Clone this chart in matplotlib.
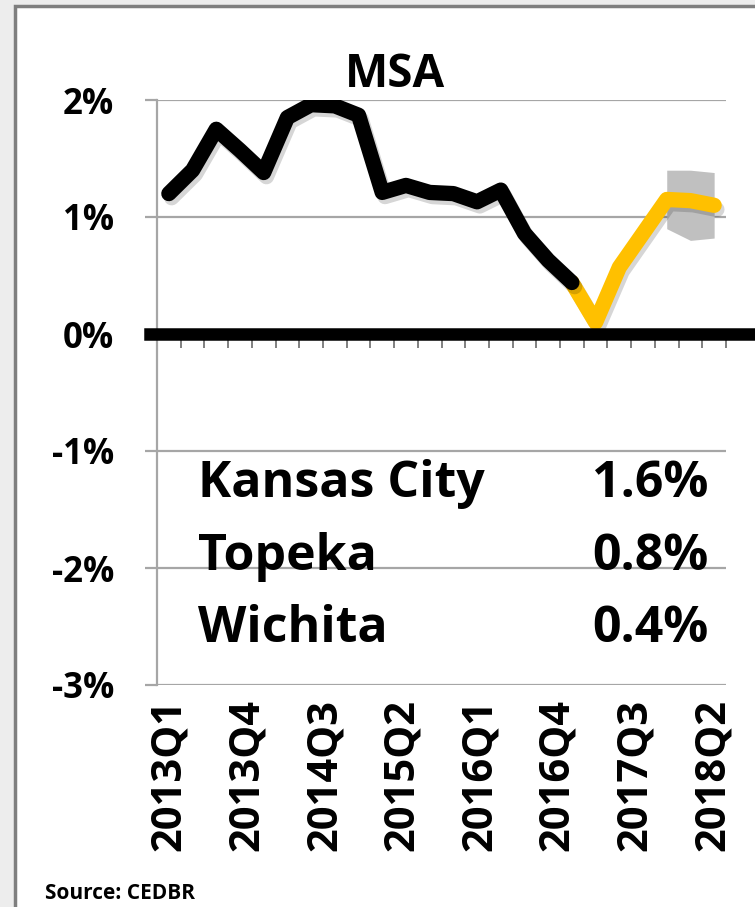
import matplotlib
matplotlib.use("Agg")
import matplotlib.pyplot as plt
import matplotlib.patheffects as pe
from matplotlib.patches import Rectangle
import numpy as np

plt.rcParams['font.family'] = ['Open Sans', 'DejaVu Sans']
plt.rcParams['font.weight'] = 'bold'

# ---- data ----
quarters = ['2013Q1', '2013Q2', '2013Q3', '2013Q4', '2014Q1', '2014Q2', '2014Q3', '2014Q4',
            '2015Q1', '2015Q2', '2015Q3', '2015Q4', '2016Q1', '2016Q2', '2016Q3', '2016Q4',
            '2017Q1', '2017Q2', '2017Q3', '2017Q4', '2018Q1', '2018Q2', '2018Q3', '2018Q4']
actual = [1.20, 1.40, 1.75, 1.57, 1.38, 1.85, 1.96, 1.95, 1.87, 1.21, 1.27, 1.21,
          1.20, 1.13, 1.23, 0.86, 0.63, 0.44]
forecast_quarters = ['2017Q2', '2017Q3', '2017Q4', '2018Q1', '2018Q2', '2018Q3', '2018Q4']
forecast = [0.44, 0.10, 0.57, 0.86, 1.15, 1.14, 1.10]
band_quarters = ['2018Q2', '2018Q3', '2018Q4']
band_low = [0.90, 0.80, 0.82]
band_high = [1.40, 1.40, 1.38]

axis_labels = ['2013Q1', '2013Q4', '2014Q3', '2015Q2', '2016Q1', '2016Q4', '2017Q3', '2018Q2']
label_slots = 22  # label axis spans 2013Q1..2018Q2

yticks = [2, 1, 0, -1, -2, -3]
ytick_labels = ['2%', '1%', '0%', '-1%', '-2%', '-3%']

title = 'MSA'
table_names = ['Kansas City', 'Topeka', 'Wichita']
table_values = ['1.6%', '0.8%', '0.4%']
source = 'Source: CEDBR'

# ---- figure ----
W, H = 755, 907
fig = plt.figure(figsize=(W / 100, H / 100), dpi=100)
fig.patch.set_facecolor('#ededed')
frame = Rectangle((15 / W, -0.02), 1.05, 1 - 6 / H + 0.02, transform=fig.transFigure,
                  facecolor='white', edgecolor='#7f7f7f', linewidth=2.5, zorder=-5)
fig.patches.append(frame)

left, right, top, bottom = 157, 726, 100, 685
ax = fig.add_axes([left / W, 1 - bottom / H, (right - left) / W, (bottom - top) / H])
ax.set_facecolor('none')
ax.set_zorder(2)

xi = {q: i for i, q in enumerate(quarters)}
xa = [xi[q] for q in quarters[:len(actual)]]
xf = [xi[q] for q in forecast_quarters]
xb = [xi[q] for q in band_quarters]

shadow = [pe.SimpleLineShadow(offset=(2, -3), shadow_color='#000000', alpha=0.16), pe.Normal()]

ax.fill_between(xb, band_low, band_high, color='#c0c0c0', linewidth=0, zorder=2)
ax.plot(xf, forecast, color='#ffc000', lw=11, solid_capstyle='round', solid_joinstyle='round',
        zorder=3, path_effects=shadow)
ax.plot(xa, actual, color='black', lw=11, solid_capstyle='round', solid_joinstyle='round',
        zorder=4, path_effects=shadow)
ax.axhline(0, xmin=-0.012, xmax=1.06, color='black', lw=9, clip_on=False, zorder=5)

ax.set_xlim(-0.5, len(quarters) - 0.5)
ax.set_ylim(-3, 2)

# grid and axes styling
for y in yticks:
    if y != 0:
        ax.axhline(y, color='#a6a6a6', lw=1.6, zorder=1)
for s in ['top', 'right']:
    ax.spines[s].set_visible(False)
ax.spines['left'].set_color('#a6a6a6')
ax.spines['left'].set_linewidth(1.6)
ax.spines['bottom'].set_position(('data', 0))
ax.spines['bottom'].set_visible(False)

ax.set_yticks(yticks)
ax.set_yticklabels(ytick_labels, fontsize=25, fontweight='bold')
ax.tick_params(axis='y', length=9, width=1.6, color='#a6a6a6', pad=22)

ax.set_xticks(np.arange(-0.5, len(quarters), 1.0))
ax.set_xticklabels([])
ax.tick_params(axis='x', length=10, width=1.4, color='#808080', direction='out')

# label axis (categories 2013Q1..2018Q2 spread over plot width)
lax = ax.twiny()
lax.set_xlim(-0.5, label_slots - 0.5)
lax.xaxis.set_ticks_position('bottom')
lax.xaxis.set_label_position('bottom')
for s in lax.spines.values():
    s.set_visible(False)
lax.set_xticks([3 * k for k in range(len(axis_labels))])
lax.set_xticklabels(axis_labels, rotation=90, fontsize=30, fontweight='bold')
lax.tick_params(axis='x', length=0, pad=10)

fig.text(395 / W, 1 - 87 / H, title, ha='center', va='baseline', fontsize=33, fontweight='bold')

rows_y = [497, 570, 642]
for name, val, yb in zip(table_names, table_values, rows_y):
    fig.text(198 / W, 1 - yb / H, name, ha='left', va='baseline', fontsize=36, fontweight='bold')
    fig.text(708 / W, 1 - yb / H, val, ha='right', va='baseline', fontsize=36, fontweight='bold')

fig.text(45 / W, 1 - 899 / H, source, ha='left', va='baseline', fontsize=15, fontweight='bold')

fig.savefig('out.png', dpi=100, facecolor=fig.get_facecolor())
